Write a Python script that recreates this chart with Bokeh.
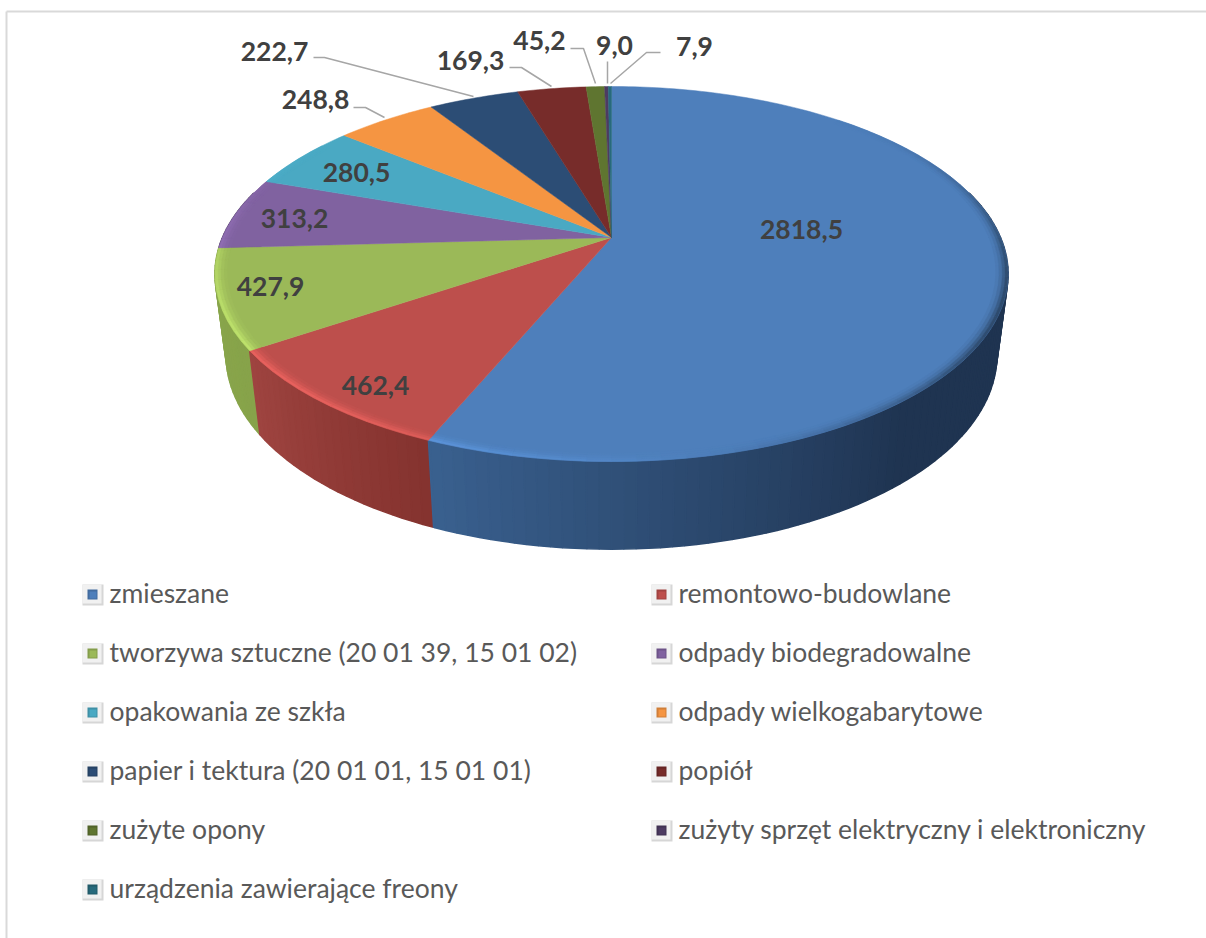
from math import sin, cos, radians
from bokeh.plotting import figure
from bokeh.models import Range1d, ColumnDataSource
from bokeh.core.properties import value
from bokeh.embed import file_html
from bokeh.resources import INLINE

# ---- data ----
categories = ["zmieszane", "remontowo-budowlane", "tworzywa sztuczne (20 01 39, 15 01 02)",
              "odpady biodegradowalne", "opakowania ze szkła", "odpady wielkogabarytowe",
              "papier i tektura (20 01 01, 15 01 01)", "popiół", "zużyte opony",
              "zużyty sprzęt elektryczny i elektroniczny", "urządzenia zawierające freony"]
values = [2818.5, 462.4, 427.9, 313.2, 280.5, 248.8, 222.7, 169.3, 45.2, 9.0, 7.9]
value_labels = ["2818,5", "462,4", "427,9", "313,2", "280,5", "248,8", "222,7", "169,3", "45,2", "9,0", "7,9"]
colors = ["#4e7fbb", "#bd4f4c", "#9bb958", "#8062a0", "#4aa9c3", "#f59542",
          "#2c4d75", "#772c2a", "#5f7530", "#4d3b62", "#276a7c"]

# ---- layout ----
W, H = 1206, 938
label_pos = [(801, 229), (375, 385), (270, 286), (294, 218), (356, 172), (315, 99),
             (274, 51), (470, 60), (539, 40), (614, 45), (694, 46)]
leaders = [((353, 107), (365, 107), (384, 117)),
           ((313, 57), (324, 57), (473, 96)),
           ((509, 67), (521, 67), (551, 86)),
           ((570, 48), (583, 48), (595, 83)),
           ((607, 61), (607, 83)),
           ((660, 52), (646, 52), (610, 83))]
legend_rows = [594, 653, 712, 771, 830, 889]
legend_cols = [82, 651]

CX, A = 611.0, 0.1947
TOP = dict(R=389.0, hub=237.0, B=180.4)
BOT = dict(R=378.0, hub=317.0, B=186.6)


def proj(theta, r=1.0, g=TOP):
    s, c = sin(radians(theta)) * r, cos(radians(theta)) * r
    w = 1 + A * c
    return CX + g["R"] * s / w, g["hub"] - g["B"] * c / w


def rgb(h):
    return tuple(int(h[i:i + 2], 16) for i in (1, 3, 5))


def mix(c1, c2, t):
    t = max(0.0, min(1.0, t))
    a, b = rgb(c1), rgb(c2)
    return "#%02x%02x%02x" % tuple(round(a[i] + (b[i] - a[i]) * t) for i in range(3))


def brighten(c, f=1.25):
    return "#%02x%02x%02x" % tuple(min(255, round(v * f)) for v in rgb(c))


total = sum(values)
starts, ends = [], []
acc = 0.0
for v in values:
    starts.append(acc / total * 360)
    acc += v
    ends.append(acc / total * 360)

p = figure(width=W, height=H, x_range=Range1d(0, W), y_range=Range1d(H, 0),
           output_backend="svg", toolbar_location=None, min_border=0,
           x_axis_type=None, y_axis_type=None)
p.grid.visible = False
p.outline_line_color = None
p.background_fill_color = "#ffffff"
p.border_fill_color = "#ffffff"

# frame of the chart
p.line([6, 6], [H, 11], line_color="#d9d9d9", line_width=2)
p.line([6, W], [11, 11], line_color="#d9d9d9", line_width=2)

# side wall
wall_stops = {0: ("#3a6190", "#1f3451", 202.8, 140.0),
              1: ("#85332f", "#a04541", 202.8, 236.1),
              2: ("#87a34a", "#8aa74c", 236.1, 266.9)}
wall = []
for i, (a0, a1) in enumerate(zip(starts, ends)):
    lo, hi = max(a0, 75), min(a1, 285)
    th = lo
    while th < hi:
        nx = min(th + 1.5, hi)
        if i in wall_stops:
            c0, c1, t0, t1 = wall_stops[i]
            col = mix(c0, c1, (th - t0) / (t1 - t0))
        else:
            col = mix(colors[i], "#000000", 0.3)
        wall.append((abs(th - 180), th, nx, col))
        th = nx
wall.sort(key=lambda q: -q[0])
wxs, wys, wcs = [], [], []
for _, th, nx, col in wall:
    pts = [proj(th), proj(nx), proj(nx, g=BOT), proj(th, g=BOT)]
    wxs.append([q[0] for q in pts])
    wys.append([q[1] for q in pts])
    wcs.append(col)
p.patches("x", "y", fill_color="c", line_color="c", line_width=1.5,
          source=ColumnDataSource(dict(x=wxs, y=wys, c=wcs)))

# top face
xs, ys = [], []
for a0, a1 in zip(starts, ends):
    n = max(2, int((a1 - a0) / 1.0) + 1)
    pts = [proj(a0 + (a1 - a0) * k / n) for k in range(n + 1)]
    xs.append([CX] + [q[0] for q in pts])
    ys.append([TOP["hub"]] + [q[1] for q in pts])
p.patches("x", "y", fill_color="c", line_color="c", line_width=0.5,
          source=ColumnDataSource(dict(x=xs, y=ys, c=colors)))

# bevel along the rim
rings = [(0.970, 0.978, 0.10), (0.978, 0.986, 0.30), (0.986, 0.993, 0.65), (0.993, 1.0, 1.0)]
rx, ry, rc = [], [], []
for i, (a0, a1) in enumerate(zip(starts, ends)):
    th = a0
    while th < a1:
        nx = min(th + 3.0, a1)
        mid = (th + nx) / 2
        light = max(0.0, cos(radians(mid - 230))) ** 3
        dark = max(0.0, cos(radians(mid - 110))) ** 4
        if light > 0.02 or dark > 0.02:
            for r0, r1, k in rings:
                col = mix(colors[i], brighten(colors[i]), 0.9 * k * light)
                col = mix(col, "#14202e", 0.55 * k * dark)
                pts = [proj(th, r0), proj(nx, r0), proj(nx, r1), proj(th, r1)]
                rx.append([q[0] for q in pts])
                ry.append([q[1] for q in pts])
                rc.append(col)
        th = nx
p.patches("x", "y", fill_color="c", line_color="c", line_width=0.4,
          source=ColumnDataSource(dict(x=rx, y=ry, c=rc)))

# leader lines
p.multi_line([[q[0] for q in l] for l in leaders], [[q[1] for q in l] for l in leaders],
             line_color="#a6a6a6", line_width=1.5)

# data labels
p.text([q[0] for q in label_pos], [q[1] for q in label_pos], text=value_labels,
       text_font=value("Lato"), text_font_style="bold", text_font_size="26.5px",
       text_color="#404040", text_align="center", text_baseline="middle")

# legend
kx, ky = [], []
for i, name in enumerate(categories):
    x0 = legend_cols[i % 2]
    yc = legend_rows[i // 2]
    p.quad(left=x0, right=x0 + 21, top=yc - 10, bottom=yc + 11, fill_color="#d6d6d6", line_color=None)
    p.quad(left=x0, right=x0 + 19, top=yc - 10, bottom=yc + 9, fill_color="#f1f1f1", line_color=None)
    p.quad(left=x0 + 5, right=x0 + 15, top=yc - 5, bottom=yc + 5, fill_color=mix(colors[i], "#000000", 0.15), line_color=None)
    p.quad(left=x0 + 7, right=x0 + 14, top=yc - 3, bottom=yc + 4, fill_color=colors[i], line_color=None)
    kx.append(x0 + 27)
    ky.append(yc - 2)
p.text(kx, ky, text=categories, text_font=value("Lato"), text_font_size="26.5px",
       text_color="#595959", text_align="left", text_baseline="middle")

open("out.html", "w").write(file_html(p, INLINE))
